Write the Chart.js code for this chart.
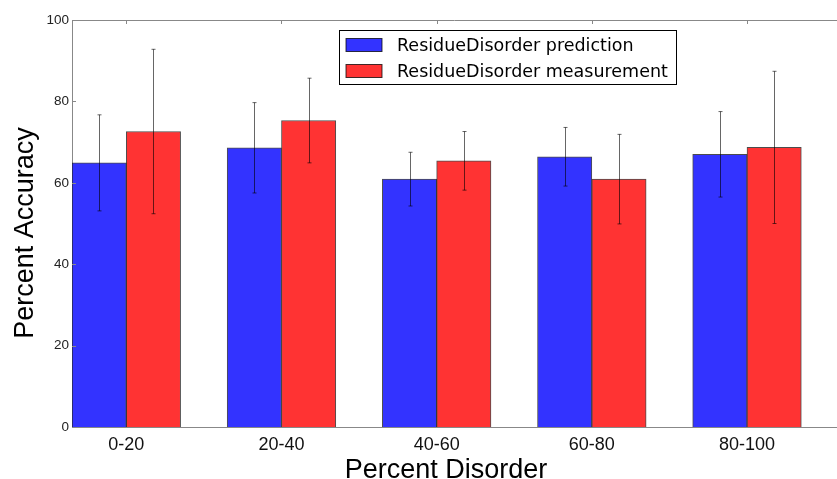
<!DOCTYPE html>
<html>
<head>
<meta charset="utf-8">
<script src="https://cdn.jsdelivr.net/npm/chart.js@4/dist/chart.umd.min.js"></script>
<style>
  html, body { margin: 0; padding: 0; background: #fff; overflow: hidden; }
  #chartBox { width: 837px; height: 479px; position: relative; }
</style>
</head>
<body>
<div id="chartBox"><canvas id="accuracyChart"></canvas></div>
<script>
const categories = ["0-20", "20-40", "40-60", "60-80", "80-100"];
const predictionValues = [64.9, 68.6, 60.9, 66.4, 67.0];
const predictionErrors = [11.8, 11.1, 6.6, 7.2, 10.5];
const measurementValues = [72.6, 75.3, 65.4, 60.9, 68.7];
const measurementErrors = [20.2, 10.4, 7.2, 11.0, 18.7];
const yTicks = [0, 20, 40, 60, 80, 100];

// bars sit either side of i + barWidth, like a grouped matplotlib bar plot
const barWidth = 0.35;
const xMax = 4.93;
const plotLeft = 72;
const plotWidth = 837 - plotLeft;
const barPx = barWidth * plotWidth / xMax;

const frameColor = "#888";

const toPoints = (values) => values.map((v, i) => ({ x: i + barWidth, y: v }));

let errorsByDataset = [predictionErrors, measurementErrors];

// error bars from the y scale
const errorBars = {
  id: "errorBars",
  afterDatasetsDraw(chart) {
    let ctx = chart.ctx;
    let yScale = chart.scales.y;
    ctx.save();
    ctx.strokeStyle = "rgba(0,0,0,0.6)";
    ctx.lineWidth = 1;
    chart.data.datasets.forEach((ds, d) => {
      let meta = chart.getDatasetMeta(d);
      meta.data.forEach((bar, i) => {
        let v = ds.data[i].y;
        let e = errorsByDataset[d][i];
        let x = Math.round(bar.x) + 0.5;
        let top = yScale.getPixelForValue(v + e);
        let bottom = yScale.getPixelForValue(v - e);
        ctx.beginPath();
        ctx.moveTo(x, top);
        ctx.lineTo(x, bottom);
        ctx.moveTo(x - 2, top);
        ctx.lineTo(x + 2, top);
        ctx.moveTo(x - 2, bottom);
        ctx.lineTo(x + 2, bottom);
        ctx.stroke();
      });
    });
    ctx.restore();
  }
};

// top spine, inward ticks, axis titles and the boxed legend
const frameAndLegend = {
  id: "frameAndLegend",
  afterDraw(chart) {
    let ctx = chart.ctx;
    let area = chart.chartArea;
    let xScale = chart.scales.x;
    let yScale = chart.scales.y;
    ctx.save();
    ctx.strokeStyle = frameColor;
    ctx.lineWidth = 1;
    ctx.beginPath();
    ctx.moveTo(area.left, area.top + 0.5);
    ctx.lineTo(chart.width, area.top + 0.5);
    for (const t of xScale.ticks) {
      let px = Math.round(xScale.getPixelForValue(t.value)) + 0.5;
      ctx.moveTo(px, area.top);
      ctx.lineTo(px, area.top + 4);
    }
    for (const t of yScale.ticks) {
      let py = Math.round(yScale.getPixelForValue(t.value)) + 0.5;
      ctx.moveTo(area.left, py);
      ctx.lineTo(area.left + 4, py);
    }
    ctx.stroke();

    // axis titles
    ctx.fillStyle = "#000";
    ctx.font = '27px "Liberation Sans", Arial, sans-serif';
    ctx.textAlign = "center";
    ctx.textBaseline = "alphabetic";
    ctx.fillText("Percent Disorder", 446, 478);
    ctx.save();
    ctx.translate(33, 233);
    ctx.rotate(-Math.PI / 2);
    ctx.fillText("Percent Accuracy", 0, 0);
    ctx.restore();

    // legend
    let lx = 339.5, ly = 30.5, lw = 337, lh = 54;
    ctx.fillStyle = "#fff";
    ctx.fillRect(lx, ly, lw, lh);
    ctx.strokeStyle = "#000";
    ctx.strokeRect(lx, ly, lw, lh);
    ctx.font = '17.5px "DejaVu Sans", sans-serif';
    ctx.textAlign = "left";
    let rows = [{ sy: 38.5, base: 51 }, { sy: 64.5, base: 77 }];
    chart.data.datasets.forEach((ds, d) => {
      let r = rows[d];
      ctx.fillStyle = ds.backgroundColor;
      ctx.fillRect(346, r.sy, 36, 13);
      ctx.strokeStyle = "rgba(0,0,0,0.75)";
      ctx.strokeRect(346, r.sy, 36, 13);
      ctx.fillStyle = "#000";
      ctx.fillText(ds.label, 397, r.base);
    });
    ctx.restore();
  }
};

let chartCanvas = document.getElementById("accuracyChart");
let accuracyChart = new Chart(chartCanvas, {
  type: "bar",
  data: {
    datasets: [{
      label: "ResidueDisorder prediction",
      data: toPoints(predictionValues),
      backgroundColor: "rgb(51,51,255)",
      borderColor: "rgba(0,0,0,0.7)",
      borderWidth: 1,
      barThickness: barPx
    }, {
      label: "ResidueDisorder measurement",
      data: toPoints(measurementValues),
      backgroundColor: "rgb(255,51,51)",
      borderColor: "rgba(0,0,0,0.7)",
      borderWidth: 1,
      barThickness: barPx
    }]
  },
  options: {
    responsive: true,
    maintainAspectRatio: false,
    animation: false,
    devicePixelRatio: 1,
    layout: { padding: { top: 20, right: 0, left: 0, bottom: 0 } },
    plugins: {
      legend: { display: false },
      tooltip: { enabled: false }
    },
    scales: {
      x: {
        type: "linear",
        min: 0,
        max: xMax,
        offset: false,
        grid: { display: false, drawTicks: false, offset: false },
        border: { display: true, color: frameColor, width: 1 },
        afterBuildTicks: (scale) => {
          scale.ticks = categories.map((c, i) => ({ value: i + barWidth }));
        },
        afterFit: (scale) => { scale.height = 52; },
        ticks: {
          autoSkip: false,
          maxRotation: 0,
          padding: 7,
          color: "#111",
          font: { family: '"Liberation Sans", Arial, sans-serif', size: 18 },
          callback: (value, index) => categories[index]
        }
      },
      y: {
        min: 0,
        max: 100,
        grid: { display: false, drawTicks: false },
        border: { display: true, color: frameColor, width: 1 },
        afterBuildTicks: (scale) => {
          scale.ticks = yTicks.map((v) => ({ value: v }));
        },
        afterFit: (scale) => { scale.width = plotLeft; },
        ticks: {
          padding: 3,
          color: "#222",
          font: { family: '"Liberation Sans", Arial, sans-serif', size: 13.5 }
        }
      }
    }
  },
  plugins: [errorBars, frameAndLegend]
});
</script>
</body>
</html>
